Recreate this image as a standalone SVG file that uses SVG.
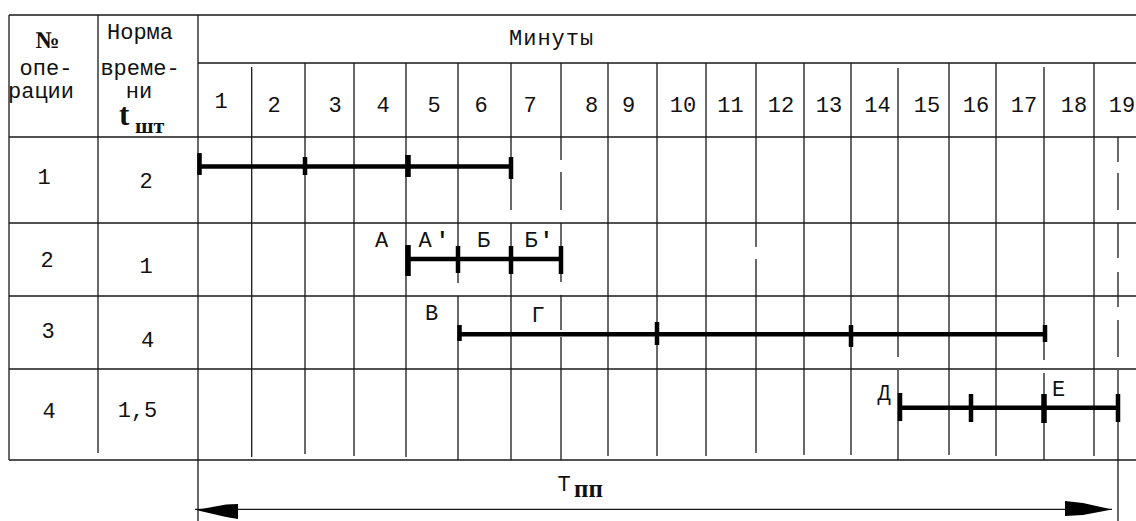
<svg xmlns="http://www.w3.org/2000/svg" width="1136" height="521" viewBox="0 0 1136 521">
<style>
.g{stroke:#1a1a1a;stroke-width:1.3;fill:none}
.b{stroke:#000;stroke-width:4.5;fill:none}
.k{stroke:#000;stroke-width:4.5;fill:none}
.kt{stroke:#000;stroke-width:5.5;fill:none}
.t{font-family:"Liberation Mono","DejaVu Sans Mono",monospace;font-size:22px;fill:#111}
.c{text-anchor:middle}
.bs{font-family:"Liberation Serif","DejaVu Serif",serif;font-weight:bold;fill:#111}
</style>
<rect width="1136" height="521" fill="#fff"/>
<g id="grid" class="g">
<path d="M9,15H1136M198,63H1136M9,137H1136M9,223H1136M9,296H1136M9,369H1136M9,460H1136"/>
<path d="M9,15V460M98,15V453M198,15V521"/>
<path d="M251.7,67V457M305,63V454M354,63V456M406,63V457M458,63V283M458,296V460M511,63V210M511,223V460"/>
<path d="M561,63V160M561,172V210M561,223V282M561,295V330M561,337V460"/>
<path d="M608,63V456M657,63V456M706,63V456M756,63V247M756,259V453M804,63V455M851,63V455"/>
<path d="M898,68V357M898,370V460M949,63V455M996,63V456M1044,67V360M1044,373V460M1094,63V456"/>
<path d="M1118,137V162M1118,173V210M1118,223V258M1118,272V307M1118,320V357M1118,370V521"/>
</g>
<g id="header">
<text class="bs c" x="47.5" y="48" font-size="24">№</text>
<text class="t c" x="46" y="75">опе-</text>
<text class="t c" x="41" y="98">рации</text>
<text class="t c" x="140" y="39">Норма</text>
<text class="t c" x="140" y="75" font-size="20">време-</text>
<text class="t c" x="139" y="98">ни</text>
<text class="bs" x="119" y="125" font-size="31">t</text>
<text class="bs" x="135" y="133" font-size="22">шт</text>
<text class="t" x="509" y="45" letter-spacing="1">Минуты</text>
<g class="t c">
<text x="221" y="108">1</text><text x="274" y="112">2</text><text x="335" y="112">3</text><text x="383" y="112">4</text><text x="434" y="112">5</text><text x="481" y="112">6</text><text x="530" y="112">7</text><text x="591.5" y="112">8</text><text x="628.5" y="112">9</text><text x="683" y="112">10</text><text x="730.5" y="112">11</text><text x="781" y="112">12</text><text x="829" y="112">13</text><text x="877.5" y="112">14</text><text x="927" y="112">15</text><text x="976" y="112">16</text><text x="1024" y="112">17</text><text x="1074" y="112">18</text><text x="1122" y="112">19</text>
</g>
</g>
<g id="op1">
<text class="t c" x="44" y="184">1</text>
<text class="t c" x="146" y="188">2</text>
<path class="b" d="M198,166.5H511"/>
<path class="k" d="M199.5,153V175M305,157V175M511,157V179"/>
<path class="kt" d="M408,155V177"/>
</g>
<g id="op2">
<text class="t c" x="47" y="267">2</text>
<text class="t c" x="146" y="273">1</text>
<text class="t c" x="381.5" y="247">А</text>
<text class="t" x="418.5" y="247">А<tspan font-weight="bold" dx="4">'</tspan></text>
<text class="t c" x="483.5" y="247">Б</text>
<text class="t" x="524.5" y="247">Б<tspan font-weight="bold" dx="2">'</tspan></text>
<path class="b" d="M408,259H561"/>
<path class="kt" d="M408,245V276"/>
<path class="k" d="M458,246V273M511,246V274M561,246V274"/>
</g>
<g id="op3">
<text class="t c" x="48" y="338">3</text>
<text class="t c" x="147.5" y="347">4</text>
<text class="t c" x="431.5" y="320">В</text>
<text class="t c" x="538" y="322">Г</text>
<path class="b" d="M459,334.3H1045"/>
<path class="k" d="M459.5,325V341M657,322V345M851,325V347M1045,325V342"/>
</g>
<g id="op4">
<text class="t c" x="49" y="418">4</text>
<text class="t c" x="137.5" y="417">1,5</text>
<text class="t c" x="884" y="400">Д</text>
<text class="t c" x="1058.7" y="396">Е</text>
<path class="b" d="M900,407.7H1118"/>
<path class="k" d="M900,393V421M971,394V422M1118,394V422"/>
<path class="kt" d="M1044,394V423"/>
</g>
<g id="total">
<path class="g" d="M195,509.3H1112"/>
<polygon points="196,510 226,504.5 238,504 238,519 226,517" fill="#000"/>
<polygon points="1065,501 1083,503 1112,509.5 1083,515 1065,516" fill="#000"/>
<text class="t c" x="564" y="491">Т</text>
<text class="bs" x="574" y="497" font-size="25">пп</text>
</g>
</svg>
